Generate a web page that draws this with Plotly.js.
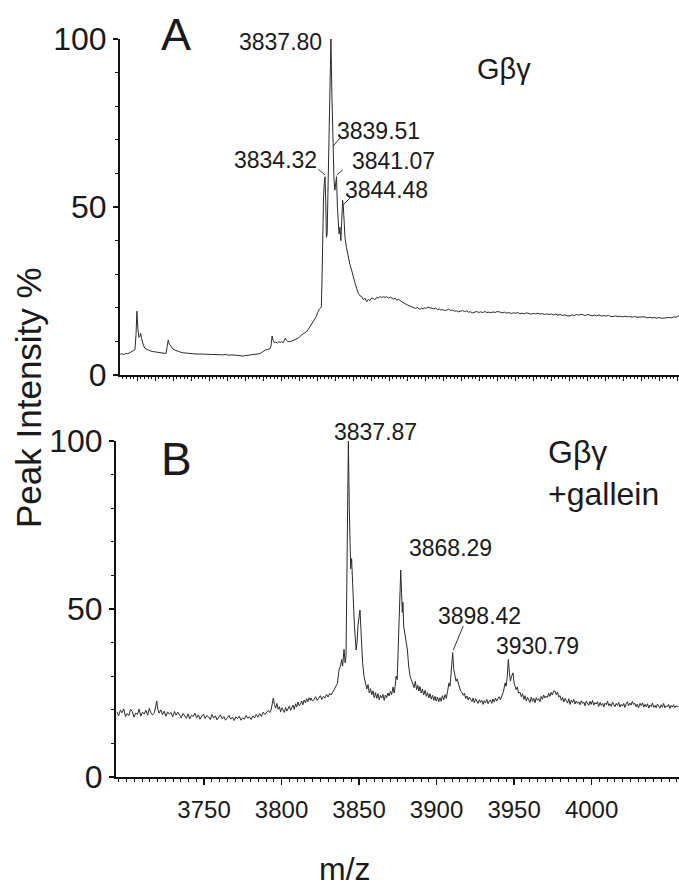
<!DOCTYPE html>
<html>
<head>
<meta charset="utf-8">
<script src="https://cdn.plot.ly/plotly-3.0.1.min.js"></script>
<style>html,body{margin:0;padding:0;background:#fff;}#chart{width:679px;height:890px;}</style>
</head>
<body>
<div id="chart"></div>
<script>
// ---------- DATA ----------
// Panel A (Gβγ) spectrum: m/z and peak intensity %
var topMz = [3720.6,3721.5,3722.5,3723.6,3724.7,3725.8,3726.9,3727.8,3728.7,3729.3,3729.8,3730.3,3730.9,3731.4,3731.9,3732.4,3732.8,3733.5,3734.3,3735.2,3736.1,3737.1,3738.3,3739.5,3740.8,3742.0,3743.2,3744.4,3745.3,3746.0,3746.6,3747.2,3747.8,3748.6,3749.7,3751.0,3752.5,3754.0,3755.6,3757.2,3758.8,3760.4,3762.0,3763.5,3765.0,3766.5,3768.0,3769.6,3771.2,3772.8,3774.4,3776.0,3777.6,3779.2,3780.8,3782.4,3784.0,3785.6,3787.2,3788.9,3790.4,3792.0,3793.6,3795.0,3796.3,3797.6,3798.9,3800.0,3801.0,3802.4,3803.7,3804.3,3804.9,3805.5,3806.2,3807.0,3807.8,3808.6,3809.4,3810.3,3811.1,3811.7,3812.2,3812.8,3813.6,3814.8,3815.8,3816.8,3817.7,3818.6,3819.5,3820.4,3821.3,3822.2,3823.2,3824.1,3825.0,3826.0,3827.0,3827.9,3828.7,3829.5,3830.2,3830.6,3831.2,3831.8,3832.3,3832.7,3833.1,3833.5,3833.9,3834.3,3834.7,3835.1,3835.5,3836.0,3836.6,3837.1,3837.6,3838.1,3838.5,3838.9,3839.3,3839.8,3840.2,3840.7,3841.2,3841.7,3842.1,3842.6,3843.1,3843.6,3844.1,3844.5,3845.0,3845.4,3846.2,3847.2,3848.1,3849.1,3850.0,3851.0,3851.9,3852.8,3853.7,3854.7,3855.6,3856.5,3857.5,3858.4,3859.2,3860.1,3861.1,3862.0,3863.0,3864.0,3864.9,3865.8,3866.7,3867.7,3868.6,3869.5,3870.5,3871.5,3872.5,3873.4,3874.2,3875.2,3876.2,3877.2,3878.2,3879.2,3880.3,3881.5,3882.5,3883.5,3884.6,3885.6,3886.4,3887.1,3888.0,3888.8,3889.6,3890.5,3891.5,3892.6,3893.6,3894.7,3895.8,3896.8,3897.8,3898.8,3899.8,3900.8,3901.9,3903.0,3904.1,3905.2,3906.3,3907.4,3908.5,3909.6,3910.7,3911.8,3913.0,3914.1,3915.2,3916.3,3917.4,3918.6,3919.7,3920.8,3922.0,3923.1,3924.2,3925.4,3926.5,3927.6,3928.8,3930.0,3931.5,3932.8,3934.0,3935.3,3936.5,3937.8,3939.0,3940.3,3941.5,3942.6,3943.8,3945.0,3946.3,3947.6,3948.8,3950.0,3951.2,3952.5,3953.8,3955.0,3956.3,3957.5,3958.8,3960.0,3961.3,3962.5,3963.8,3965.0,3966.3,3967.6,3968.9,3970.4,3971.6,3972.8,3974.0,3975.3,3976.5,3977.8,3979.0,3980.3,3981.5,3982.8,3984.0,3985.3,3986.6,3987.9,3989.2,3990.5,3991.8,3993.1,3994.5,3995.8,3997.0,3998.3,3999.6,4001.0,4002.3,4003.6,4005.0,4006.3,4007.6,4009.3,4010.6,4012.0,4013.3,4014.6,4016.0,4017.3,4018.6,4020.0,4021.4,4022.8,4024.1,4025.4,4026.7,4028.0,4029.4,4030.8];
var topIntensity = [6.2,6.3,6.1,6.4,6.3,6.6,6.9,7.1,7.5,12,19.0,14,11.2,11.5,12.4,10.8,9.9,8.7,7.9,7.6,7.4,7.2,7.0,6.9,6.8,6.6,6.7,6.5,6.4,6.4,8.5,10.4,9.2,8.6,7.8,7.4,7.0,6.8,6.6,6.5,6.4,6.4,6.3,6.2,6.25,6.2,6.1,6.2,6.1,6.0,6.1,6.0,6.0,6.1,5.9,6.0,5.9,5.8,5.8,5.65,5.8,5.9,6.0,6.1,6.25,6.3,6.6,7.0,7.4,7.6,7.8,8.6,11.6,10.3,9.6,9.8,9.5,9.9,9.7,9.9,9.6,10.3,10.9,10.4,10.0,9.9,10.1,10.3,10.5,10.6,11.0,11.5,12.0,12.3,12.6,12.9,13.6,14.5,15.4,16.0,16.6,17.4,18.6,19.3,19.6,19.9,20.4,30,44,53,57,59,52,41,42,58,80,93,100,84,72,68,58,55,57,59,50,44,42,44,40,46,52,50,44,41,38,35,33,31.2,29.0,27.3,25.8,24.3,23.6,23.3,22.4,22.9,21.8,22.5,22.1,22.9,22.8,22.4,23.1,22.9,23.4,23.0,23.3,23.1,23.3,22.9,23.2,22.9,22.6,22.8,22.3,22.5,22.0,21.7,21.4,21.0,20.8,20.5,20.3,20.0,19.8,20.1,19.6,19.5,19.9,19.6,20.0,19.8,20.2,20.1,19.8,19.7,19.9,19.5,19.6,19.3,19.5,19.2,19.3,19.6,19.2,19.3,19.0,19.1,18.8,19.0,19.2,18.9,19.1,18.7,18.8,18.5,18.7,18.9,18.6,18.8,18.6,18.9,18.6,18.7,18.5,18.8,18.6,18.9,18.75,18.5,18.7,18.4,18.6,18.3,18.5,18.4,18.6,18.2,18.4,18.2,18.5,18.3,18.1,18.3,18.2,18.4,18.1,18.3,18.0,18.2,18.0,18.2,17.9,18.1,17.8,18.0,17.7,17.9,17.6,17.6,17.9,17.7,18.0,17.8,18.1,17.9,17.7,18.0,17.9,17.6,17.8,17.6,17.9,17.5,17.7,17.5,17.8,17.4,17.4,17.6,17.4,17.5,17.3,17.5,17.3,17.4,17.2,17.4,17.2,17.2,17.1,17.3,17.0,17.2,17.0,17.1,16.9,17.1,16.9,17.0,16.9,17.1,17.0,17.3,17.2,17.6];

// Panel B (Gβγ + gallein) spectrum
var bottomMz = [3693.8,3694.9,3696.0,3697.1,3698.2,3699.3,3700.4,3701.5,3702.6,3703.7,3704.8,3705.9,3707.0,3708.1,3709.2,3710.3,3711.4,3712.5,3713.6,3714.7,3715.8,3716.9,3718.0,3718.8,3719.5,3720.2,3721.0,3722.1,3723.2,3724.3,3725.4,3726.5,3727.6,3728.7,3729.8,3730.9,3732.0,3733.1,3734.2,3735.3,3736.4,3737.5,3738.6,3739.7,3740.8,3741.9,3743.0,3744.1,3745.2,3746.3,3747.4,3748.5,3749.6,3750.7,3751.8,3752.9,3754.0,3755.1,3756.2,3757.3,3758.4,3759.5,3760.6,3761.7,3762.8,3763.9,3765.0,3766.1,3767.2,3768.3,3769.4,3770.5,3771.6,3772.7,3773.8,3774.9,3776.0,3777.1,3778.2,3779.3,3780.4,3781.5,3782.6,3783.7,3784.8,3785.9,3787.0,3788.1,3789.2,3790.3,3791.4,3792.5,3793.4,3794.0,3794.7,3795.4,3796.2,3797.0,3797.8,3798.6,3799.4,3800.2,3801.0,3801.8,3802.6,3803.4,3804.2,3805.0,3805.8,3806.6,3807.4,3808.2,3809.0,3809.8,3810.6,3811.4,3812.2,3813.0,3813.8,3814.6,3815.4,3816.2,3817.0,3817.8,3818.6,3819.0,3820.0,3821.0,3822.0,3823.0,3824.0,3825.0,3826.0,3827.0,3828.0,3829.0,3830.0,3831.0,3832.0,3833.0,3834.0,3835.0,3836.0,3837.1,3838.0,3838.8,3839.4,3840.3,3841.0,3841.6,3842.3,3843.1,3843.7,3844.2,3844.6,3845.2,3845.7,3846.3,3847.0,3848.1,3848.7,3849.3,3850.0,3850.6,3851.2,3851.7,3852.3,3853.2,3854.2,3855.0,3855.8,3856.6,3857.4,3858.2,3859.0,3859.8,3860.6,3861.4,3862.2,3863.0,3863.8,3864.6,3865.4,3866.2,3867.0,3867.8,3868.6,3869.4,3870.2,3871.0,3871.9,3872.6,3873.3,3873.9,3874.6,3875.3,3876.0,3876.9,3877.4,3877.9,3878.3,3878.8,3879.5,3880.3,3881.2,3882.0,3882.9,3883.7,3884.5,3885.5,3886.3,3887.1,3887.9,3888.6,3889.3,3890.1,3890.9,3891.7,3892.6,3893.4,3894.2,3895.0,3895.8,3896.6,3897.4,3898.2,3899.0,3899.8,3900.6,3901.4,3902.2,3903.0,3903.8,3904.6,3905.5,3906.3,3907.1,3908.0,3908.7,3909.4,3910.4,3911.1,3911.9,3912.6,3913.3,3913.9,3914.7,3915.5,3916.4,3917.2,3918.0,3918.8,3919.6,3920.4,3921.2,3922.0,3922.8,3923.6,3924.4,3925.2,3926.0,3926.8,3927.6,3928.4,3929.2,3930.0,3930.8,3931.6,3932.4,3933.2,3934.0,3934.8,3935.6,3936.4,3937.2,3938.0,3938.8,3939.6,3940.4,3941.2,3942.2,3943.2,3944.2,3944.9,3945.6,3946.3,3947.0,3947.6,3948.3,3949.3,3950.0,3950.7,3951.3,3952.1,3952.9,3953.9,3954.7,3955.5,3956.3,3957.1,3957.9,3958.7,3959.5,3960.3,3961.1,3961.9,3962.7,3963.5,3964.3,3965.1,3965.9,3966.7,3967.5,3968.3,3969.1,3969.9,3970.7,3971.5,3972.3,3973.1,3973.9,3974.7,3975.5,3976.4,3977.2,3978.0,3978.8,3979.7,3980.5,3981.3,3982.1,3982.9,3983.7,3984.5,3985.3,3986.1,3986.9,3987.7,3988.5,3989.3,3990.1,3990.9,3991.7,3992.6,3993.4,3994.2,3995.0,3995.8,3996.6,3997.4,3998.2,3999.0,3999.8,4000.6,4001.4,4002.2,4003.0,4003.8,4004.6,4005.5,4006.3,4007.1,4007.9,4008.7,4009.5,4010.3,4011.1,4011.9,4012.7,4013.5,4014.3,4015.1,4015.9,4016.7,4017.5,4018.3,4019.1,4019.9,4020.7,4021.5,4022.3,4023.1,4023.9,4024.7,4025.5,4026.3,4027.1,4027.9,4028.7,4029.5,4030.3,4031.3,4032.1,4032.9,4033.7,4034.5,4035.3,4036.1,4036.9,4037.7,4038.5,4039.3,4040.1,4040.9,4041.7,4042.5,4043.3,4044.1,4044.9,4045.7,4046.5,4047.3,4048.1,4048.9,4049.7,4050.5,4051.3,4052.1,4052.9,4053.7,4054.5,4055.3,4056.2];
var bottomIntensity = [
  19.4,18.2,19.9,19.1,20.3,18.0,18.9,18.3,20.1,19.5,17.8,19.0,18.6,20.2,18.1,19.3,18.7,19.9,18.4,20.4,19.0,18.5,19.2,
  21.0,22.6,20.1,
  19.0,20.0,18.5,19.6,18.1,19.4,18.7,19.2,17.9,19.5,18.4,19.3,18.2,
  17.6,18.9,18.2,17.5,18.8,17.3,18.4,18.0,19.0,17.6,18.5,17.2,18.1,18.7,17.4,18.3,17.9,17.1,18.6,17.5,18.2,17.0,17.8,18.5,17.3,18.0,16.9,17.7,18.3,17.2,17.8,16.8,17.9,17.4,18.1,16.9,17.6,17.2,18.3,17.5,17.9,17.1,18.2,17.6,18.6,17.8,18.9,18.0,19.3,18.6,19.1,19.8,19.2,
  20.2,21.8,23.5,
  21.6,20.5,21.9,20.2,20.9,19.4,20.6,20.0,19.2,20.7,19.6,20.3,21.1,19.8,20.6,21.4,20.1,21.8,20.9,22.3,21.2,21.7,22.6,21.5,22.9,22.1,23.3,22.4,23.6,22.8,
  23.5,22.6,23.1,23.9,22.8,23.4,24.2,23.1,24.0,23.5,24.6,23.8,24.9,24.4,25.3,25.8,26.9,27.8,
  32,33,35,33,38,34,36,60,100,80,66,62,65,58,51.8,45,37.8,40,45,48,49.7,44,37.8,34,30,
  28,26.2,27.5,25.0,26.3,24.5,25.6,23.6,25.1,23.4,24.8,23.0,24.3,23.5,24.6,22.8,24.4,23.6,25.0,24.1,25.5,24.5,26.8,25.0,
  27,30,29,38,48,61.6,55,49,52,44.7,42.8,40,37.8,33,30,29,
  27.9,26.6,28.5,26.0,27.3,25.6,26.9,25.0,26.2,24.4,25.8,24.0,25.1,23.5,24.8,23.2,24.3,22.8,24.0,22.6,23.8,22.4,23.6,22.5,24.2,23.0,24.5,23.4,25.5,
  28,27,31,37,32,30,28.5,29.2,28,26.5,25.6,
  25.2,24.3,24.9,23.4,24.1,22.9,23.8,23.2,22.4,23.5,22.1,23.3,22.6,21.9,23.0,22.2,22.8,21.6,22.7,22.1,23.1,21.8,22.6,22.9,21.9,23.2,22.3,23.5,22.6,23.1,23.9,23.0,24.1,
  25.5,28,27,30,35,31,28.5,29.8,31,28,26.5,26.0,26.8,25.0,25.2,
  23.9,24.8,23.1,24.2,22.6,23.7,22.9,22.2,23.8,22.5,23.4,22.1,23.6,22.8,23.3,22.4,24.0,23.1,24.4,23.5,24.1,23.7,24.9,24.0,25.2,24.4,25.6,
  25.6,24.5,25.3,23.8,
  24.2,22.8,23.7,22.3,23.4,22.7,22.0,23.3,21.6,22.9,22.2,23.1,21.7,22.6,21.9,22.4,
  21.5,22.7,21.9,22.3,21.2,22.6,21.8,21.3,22.5,21.6,22.8,21.4,22.1,21.7,22.4,21.0,
  22.2,21.3,21.9,20.8,22.0,21.5,22.6,21.2,21.8,21.0,22.3,21.6,20.9,21.9,21.3,22.2,20.8,21.6,21.1,21.9,20.7,21.8,22.4,21.2,22.0,21.4,22.5,21.6,21.9,20.9,21.7,20.6,
  21.9,
  21.2,22.1,20.8,21.6,20.9,21.8,20.5,21.4,21.0,22.0,20.7,21.3,20.6,21.7,21.1,20.5,21.5,20.8,21.9,20.6,21.2,20.9,21.6,20.4,21.3,20.8,21.5,20.6,21.2,20.9,21.1
];

// Peak labels
var topPeakLabels = ['3834.32','3837.80','3839.51','3841.07','3844.48'];
var topPeakMz = [3834.3, 3837.6, 3838.9, 3840.7, 3844.3];
var topPeakInt = [59, 100, 68, 59, 52];
var bottomPeakLabels = ['3837.87','3868.29','3898.42','3930.79'];
var bottomPeakMz = [3843.1, 3876.9, 3910.4, 3946.3];
var bottomPeakInt = [100, 61.6, 37, 35];

// Tick values
var yTickVals = [0, 50, 100];
var xTickVals = [3750, 3800, 3850, 3900, 3950, 4000];

// ---------- STYLE / PLACEMENT ----------
var FONT = 'Liberation Sans, Arial, Helvetica, sans-serif';
var TXT = '#1a1a1a';
var LINEC = '#111';
// label placement: [xanchor, xshift, yshift]
var topLabelPos = [['right',-6,16.7],['right',-7,-3],['left',2,16],['left',13.5,15.3],['left',0,10.3]];
var bottomLabelPos = [['left',-16,9.5],['left',6,22],['left',-17,37],['left',-14,13.4]];
// leader lines in pixel offsets from peak (y up): [x0,y0,x1,y1] or null
var topLeaders = [[-6.7,7.5,0,1.8], null, [6.7,8.5,0,0.5], [6.2,6.8,0.2,1.8], [7,2.3,0.3,-4.7]];
var bottomLeaders = [null, null, [10.6,26.7,0.6,2.7], null];

var W = 679, H = 890;
function py(p){ return (H - p) / H; }

var traces = [
  {x: topMz, y: topIntensity, xaxis: 'x', yaxis: 'y', type: 'scatter', mode: 'lines',
   line: {color: '#2a2a2a', width: 1}, hoverinfo: 'skip'},
  {x: bottomMz, y: bottomIntensity, xaxis: 'x2', yaxis: 'y2', type: 'scatter', mode: 'lines',
   line: {color: '#2a2a2a', width: 1}, hoverinfo: 'skip'}
];

var annotations = [];
var shapes = [];
function addLabels(labels, mzs, ints, pos, leaders, xr, yr) {
  for (var i = 0; i < labels.length; i++) {
    annotations.push({
      x: mzs[i], y: ints[i], xref: xr, yref: yr, text: labels[i], showarrow: false,
      xanchor: pos[i][0], yanchor: 'middle', xshift: pos[i][1], yshift: pos[i][2],
      font: {family: FONT, size: 23, color: TXT}
    });
    if (leaders[i]) {
      var L = leaders[i];
      shapes.push({type: 'line', xref: xr, yref: yr, xsizemode: 'pixel', ysizemode: 'pixel',
        xanchor: mzs[i], yanchor: ints[i], x0: L[0], y0: L[1], x1: L[2], y1: L[3],
        line: {color: '#333', width: 1}});
    }
  }
}
addLabels(topPeakLabels, topPeakMz, topPeakInt, topLabelPos, topLeaders, 'x', 'y');
addLabels(bottomPeakLabels, bottomPeakMz, bottomPeakInt, bottomLabelPos, bottomLeaders, 'x2', 'y2');

function paperText(txt, px, pyv, size, xanchor, extra) {
  var a = {x: px/W, y: py(pyv), xref: 'paper', yref: 'paper', text: txt, showarrow: false,
    xanchor: xanchor, yanchor: 'middle', align: 'left', font: {family: FONT, size: size, color: TXT}};
  if (extra) { for (var k in extra) a[k] = extra[k]; }
  annotations.push(a);
}
// panel letters and sample names
paperText('A', 176, 35, 45, 'center');
paperText('B', 176, 459, 46, 'center');
paperText('Gβγ', 475, 69, 29, 'left');
paperText('Gβγ<br>+gallein', 546, 473, 32, 'left');
// axis titles
paperText('Peak Intensity %', 28, 398, 35, 'center', {textangle: -90});
annotations.push({x: 345/W, y: 0, xref: 'paper', yref: 'paper', text: 'm/z', showarrow: false,
  xanchor: 'center', yanchor: 'bottom', yshift: 1, font: {family: FONT, size: 32, color: TXT}});

var yAxisCommon = {
  range: [0, 100], tickmode: 'array', tickvals: yTickVals, ticktext: yTickVals.map(String),
  ticks: 'outside', ticklen: 5, tickwidth: 1.5, tickcolor: LINEC,
  minor: {tickmode: 'linear', tick0: 0, dtick: 10, ticks: 'outside', ticklen: 3, tickwidth: 1, tickcolor: LINEC},
  showline: true, linewidth: 2, linecolor: LINEC, showgrid: false, zeroline: false, fixedrange: true,
  tickfont: {family: FONT, size: 32, color: TXT}
};

var layout = {
  width: W, height: H, margin: {l: 0, r: 0, t: 0, b: 0},
  paper_bgcolor: '#fff', plot_bgcolor: '#fff', showlegend: false,
  xaxis: {domain: [120/W, 1], anchor: 'y', range: [3720.4, 4031], showticklabels: false,
    tickmode: 'linear', tick0: 3730, dtick: 10, ticks: 'outside', ticklen: 4, tickwidth: 1, tickcolor: LINEC,
    minor: {tickmode: 'linear', tick0: 3730, dtick: 2, ticks: 'outside', ticklen: 2, tickwidth: 1, tickcolor: LINEC},
    showline: true, linewidth: 2, linecolor: LINEC, showgrid: false, zeroline: false},
  yaxis: Object.assign({}, yAxisCommon, {domain: [py(375), py(39)], anchor: 'x'}),
  xaxis2: {domain: [116/W, 1], anchor: 'y2', range: [3693.2, 4056.4],
    tickmode: 'array', tickvals: xTickVals, ticktext: xTickVals.map(String),
    ticks: 'outside', ticklen: 6, tickwidth: 1.2, tickcolor: LINEC,
    minor: {tickmode: 'linear', tick0: 3750, dtick: 5, ticks: 'outside', ticklen: 3, tickwidth: 1, tickcolor: LINEC},
    showline: true, linewidth: 2, linecolor: LINEC, showgrid: false, zeroline: false,
    tickfont: {family: FONT, size: 24, color: TXT}, ticklabelstandoff: 4},
  yaxis2: Object.assign({}, yAxisCommon, {domain: [py(777), py(441)], anchor: 'x2'}),
  annotations: annotations,
  shapes: shapes
};

Plotly.newPlot('chart', traces, layout, {displayModeBar: false, staticPlot: true});
</script>
</body>
</html>
